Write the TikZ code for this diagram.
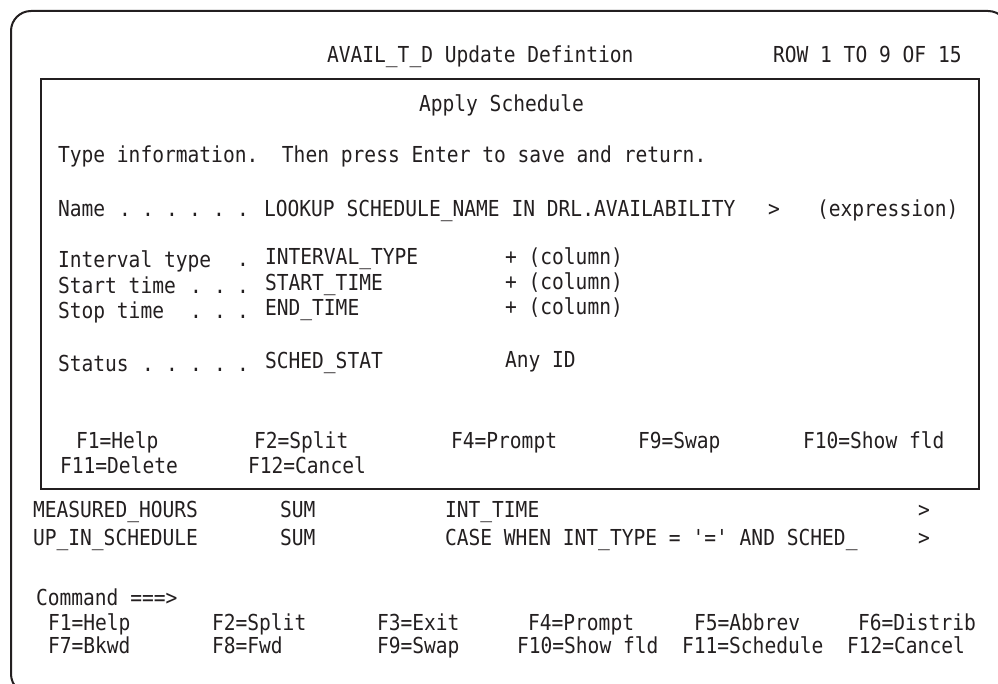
\documentclass[tikz,border=0pt]{standalone}
\usepackage{fontspec}
\setmonofont[FakeStretch=0.89]{DejaVu Sans Mono}
\frenchspacing
\definecolor{ink}{HTML}{231F20}
\begin{document}
\begin{tikzpicture}[x=1pt,y=-1pt,
  scr/.style={anchor=base west,inner sep=0pt,outer sep=0pt,text=ink,
    font=\fontsize{22}{26}\selectfont\ttfamily},
  ldot/.style={anchor=base,inner sep=0pt,text=ink,
    font=\fontsize{22}{26}\selectfont\ttfamily}]
\useasboundingbox (0,0) rectangle (998,684);

% outer screen frame and pop-up window
\draw[ink,line width=2pt,rounded corners=20pt] (11,11) rectangle (1008,694);
\draw[ink,line width=2.6pt,fill=white] (41,79) rectangle (979,489);

% title line
\node[scr] (title) at (327,63) {AVAIL\_T\_D Update Defintion};
\node[scr] (rows)  at (773,63) {ROW 1 TO 9 OF 15};

% pop-up contents
\node[scr] (apply) at (419,112) {Apply Schedule};
\node[scr] (info)  at (58,163) {Type information.~ Then press Enter to save and return.};

\node[scr] (lname) at (58,217) {Name};
\foreach \i/\xx in {1/125,2/148,3/172,4/195,5/219,6/243}
  \node[ldot] (nd\i) at (\xx,217) {.};
\node[scr] (vname) at (264,217) {LOOKUP SCHEDULE\_NAME IN DRL.AVAILABILITY};
\node[scr] (more)  at (768,217) {>};
\node[scr] (expr)  at (817,217) {(expression)};

\node[scr] (lint) at (58,268) {Interval type};
\node[ldot] (id1) at (243,267) {.};
\node[scr] (vint) at (265,265) {INTERVAL\_TYPE};
\node[scr] (cint) at (505,265) {+ (column)};

\node[scr] (lsta) at (58,294) {Start time};
\foreach \i/\xx in {1/196,2/220,3/243}
  \node[ldot] (sd\i) at (\xx,294) {.};
\node[scr] (vsta) at (265,291) {START\_TIME};
\node[scr] (csta) at (505,290) {+ (column)};

\node[scr] (lsto) at (58,319) {Stop time};
\foreach \i/\xx in {1/196,2/220,3/243}
  \node[ldot] (td\i) at (\xx,319) {.};
\node[scr] (vsto) at (265,316) {END\_TIME};
\node[scr] (csto) at (505,315) {+ (column)};

\node[scr] (lstat) at (58,371) {Status};
\foreach \i/\xx in {1/148,2/172,3/196,4/220,5/243}
  \node[ldot] (ud\i) at (\xx,371) {.};
\node[scr] (vstat) at (265,368) {SCHED\_STAT};
\node[scr] (cstat) at (505,367) {Any ID};

% pop-up function keys
\node[scr] (pf1)  at (76,448)  {F1=Help};
\node[scr] (pf2)  at (254,448) {F2=Split};
\node[scr] (pf4)  at (451,448) {F4=Prompt};
\node[scr] (pf9)  at (638,448) {F9=Swap};
\node[scr] (pf10) at (803,448) {F10=Show fld};
\node[scr] (pf11) at (60,473)  {F11=Delete};
\node[scr] (pf12) at (248,473) {F12=Cancel};

% underlying list rows
\node[scr] (r1a) at (33,517)  {MEASURED\_HOURS};
\node[scr] (r1b) at (280,517) {SUM};
\node[scr] (r1c) at (445,517) {INT\_TIME};
\node[scr] (r1d) at (918,517) {>};
\node[scr] (r2a) at (33,545)  {UP\_IN\_SCHEDULE};
\node[scr] (r2b) at (280,545) {SUM};
\node[scr] (r2c) at (445,545) {CASE WHEN INT\_TYPE = '=' AND SCHED\_};
\node[scr] (r2d) at (918,545) {>};

% command line and function keys
\node[scr] (cmd) at (36,605) {Command ===>};
\node[scr] (k1)  at (48,630)  {F1=Help};
\node[scr] (k2)  at (212,630) {F2=Split};
\node[scr] (k3)  at (377,630) {F3=Exit};
\node[scr] (k4)  at (528,630) {F4=Prompt};
\node[scr] (k5)  at (694,630) {F5=Abbrev};
\node[scr] (k6)  at (858,630) {F6=Distrib};
\node[scr] (k7)  at (48,653)  {F7=Bkwd};
\node[scr] (k8)  at (212,653) {F8=Fwd};
\node[scr] (k9)  at (377,653) {F9=Swap};
\node[scr] (k10) at (517,653) {F10=Show fld};
\node[scr] (k11) at (682,653) {F11=Schedule};
\node[scr] (k12) at (847,653) {F12=Cancel};
\end{tikzpicture}
\end{document}
